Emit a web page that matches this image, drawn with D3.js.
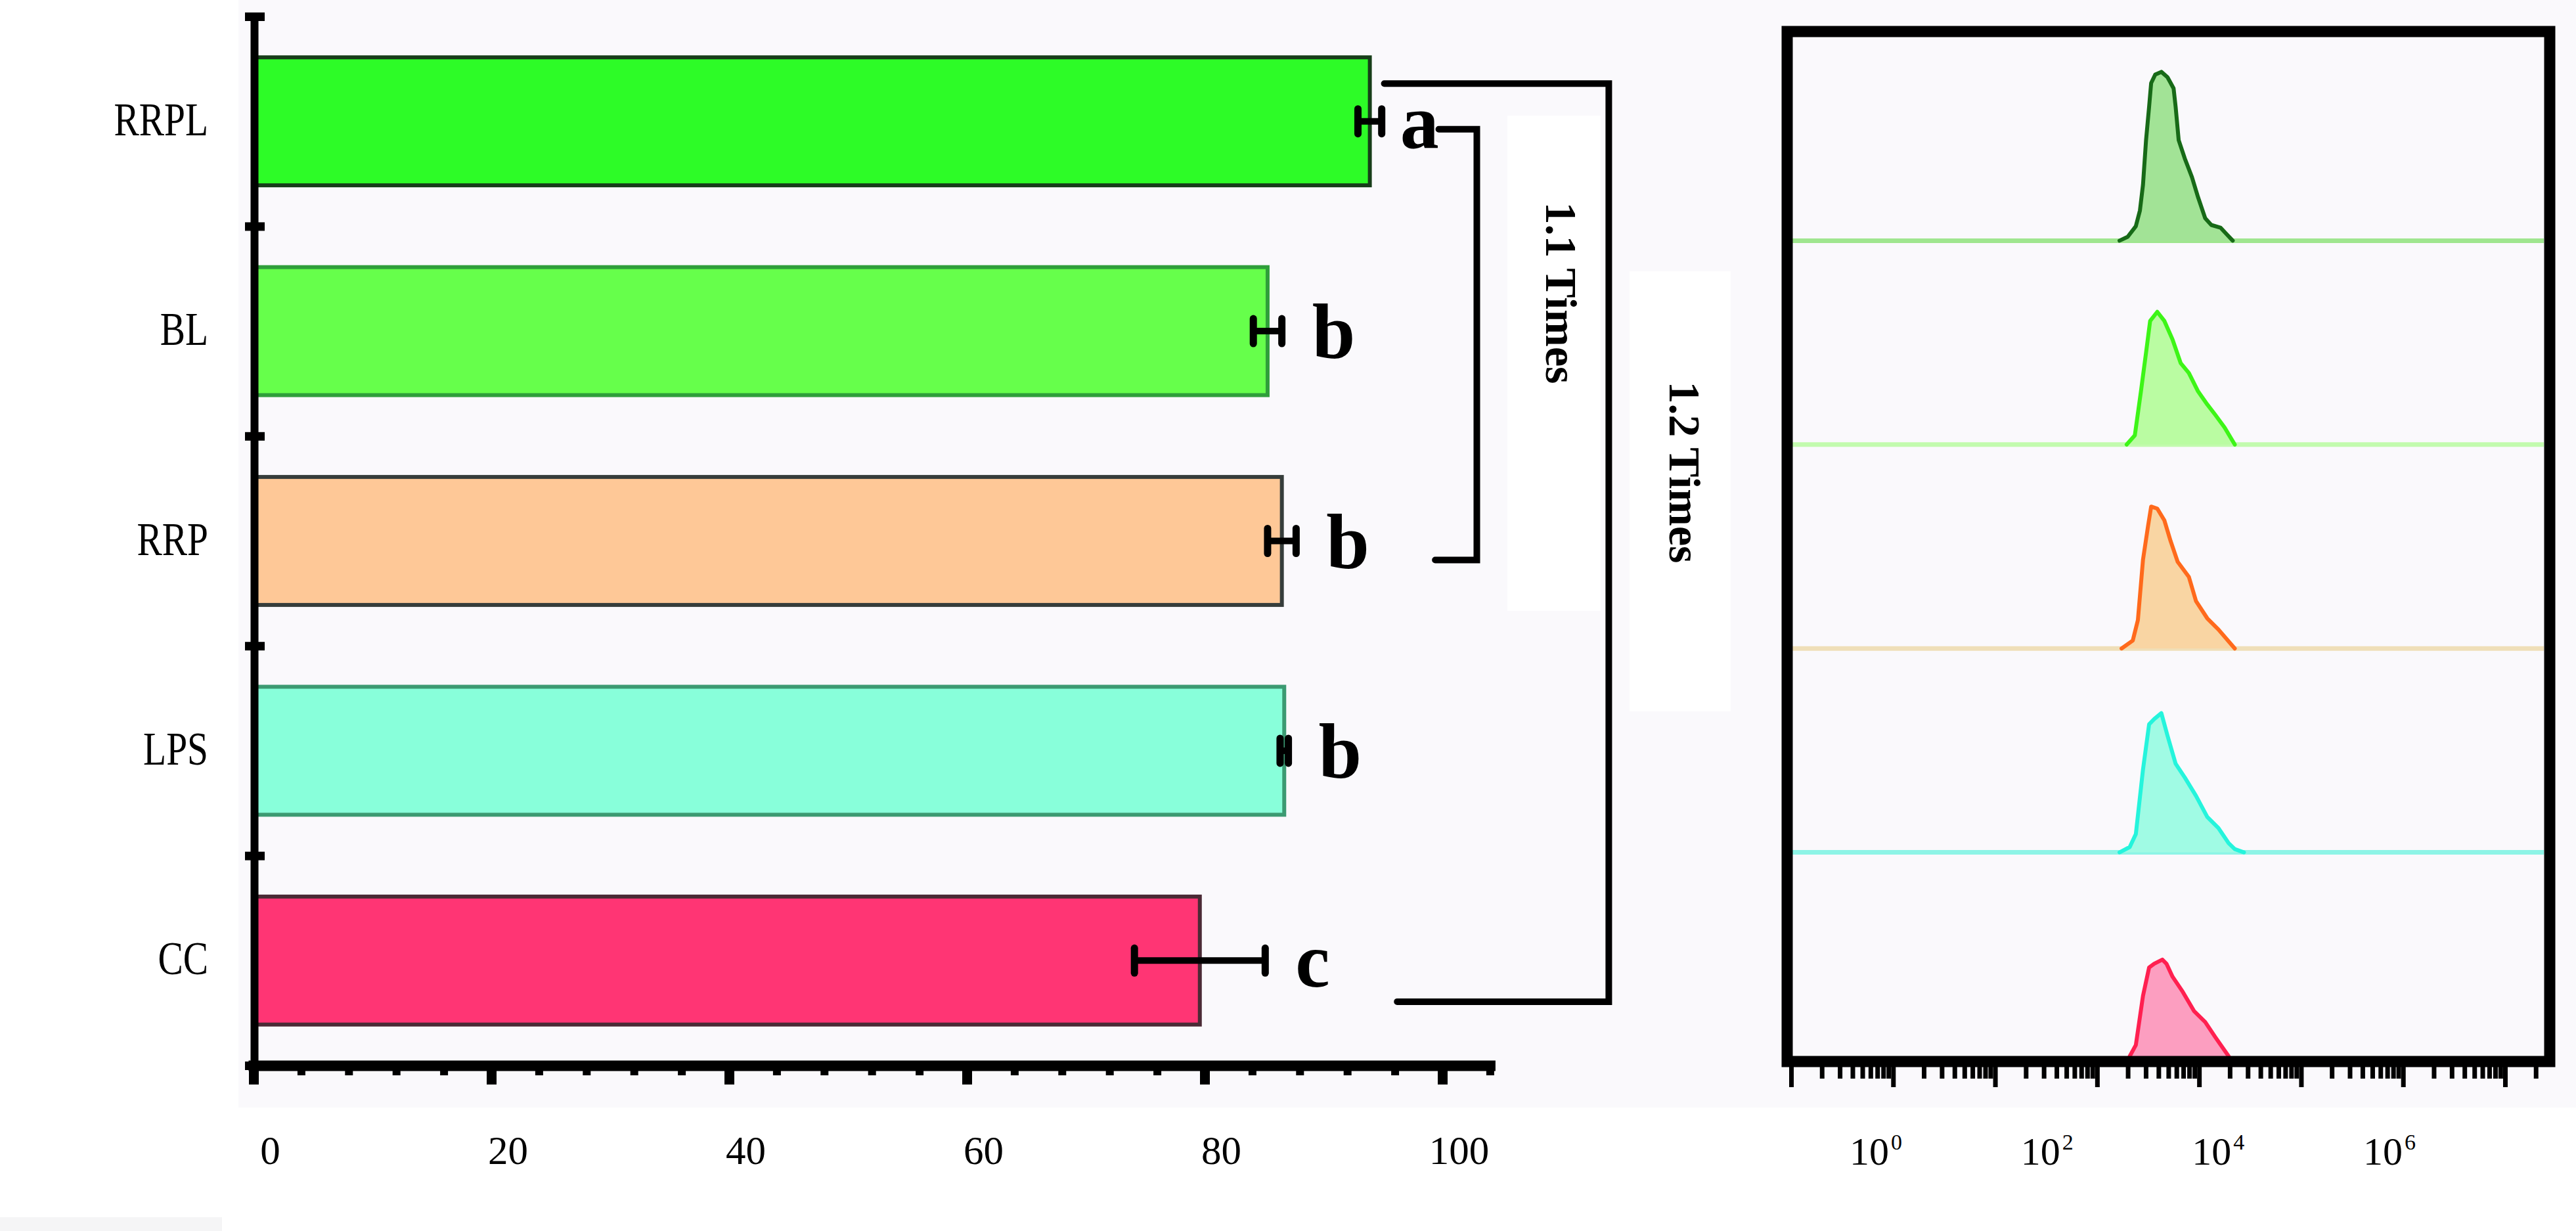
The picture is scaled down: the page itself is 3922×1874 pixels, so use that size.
<!DOCTYPE html>
<html><head><meta charset="utf-8">
<script src="https://cdn.jsdelivr.net/npm/d3@7"></script>
<style>html,body{margin:0;padding:0;background:#fff;} svg{display:block;}</style>
</head><body>
<svg id="chart" width="3922" height="1874"></svg>
<script>
// ---------------- DATA ----------------
const categories = ["RRPL", "BL", "RRP", "LPS", "CC"];
const meanValues = [93.9, 85.3, 86.5, 86.7, 79.6];
const errorValues = [1.0, 1.2, 1.2, 0.35, 5.5];
const sigLetters = ["a", "b", "b", "b", "c"];
const xTickValues = [0, 20, 40, 60, 80, 100];
const foldLabels = ["1.1 Times", "1.2 Times"];
const histTickLabelExponents = [0, 2, 4, 6];

// flow cytometry histograms: log10 fluorescence intensity, relative count
const rrplLogFI = [3.22, 3.30, 3.38, 3.42, 3.45, 3.48, 3.51, 3.53, 3.57, 3.63, 3.69, 3.75, 3.77, 3.80, 3.86, 3.93, 3.99, 4.06, 4.12, 4.21, 4.27, 4.33];
const rrplCount = [0, 1.9, 7.1, 14.8, 27.4, 49.3, 65.7, 77.3, 81.5, 82.8, 80.2, 74.7, 65.7, 49.3, 40.3, 31.2, 21.3, 11.0, 7.7, 6.4, 3.2, 0];
const blLogFI = [3.29, 3.37, 3.43, 3.48, 3.52, 3.59, 3.66, 3.74, 3.82, 3.90, 3.99, 4.08, 4.16, 4.25, 4.35];
const blCount = [0, 4.5, 26.1, 45.1, 60.6, 65.1, 60.6, 51.5, 39.9, 35.1, 26.1, 19.7, 14.5, 8.4, 0];
const rrpLogFI = [3.24, 3.35, 3.40, 3.45, 3.50, 3.53, 3.59, 3.66, 3.72, 3.79, 3.90, 3.97, 4.08, 4.19, 4.35];
const rrpCount = [0, 3.9, 13.9, 43.5, 60.2, 69.6, 68.6, 62.8, 52.8, 42.5, 35.1, 23.2, 14.8, 9.3, 0];
const lpsLogFI = [3.22, 3.32, 3.38, 3.45, 3.51, 3.56, 3.63, 3.69, 3.77, 3.86, 3.97, 4.08, 4.19, 4.29, 4.35, 4.44];
const lpsCount = [0, 2.6, 9.0, 40.6, 62.8, 65.4, 68.3, 57.3, 43.5, 36.7, 27.7, 17.4, 11.9, 4.5, 1.6, 0];
const ccLogFI = [3.32, 3.38, 3.45, 3.51, 3.56, 3.64, 3.68, 3.74, 3.84, 3.95, 4.06, 4.16, 4.29];
const ccCount = [0, 5.5, 29.6, 43.5, 45.4, 47.4, 45.4, 39.0, 31.6, 22.2, 16.8, 9.3, 0];

// ---------------- STYLES ----------------
const barFills = ["#2dfc27", "#66ff4b", "#fec897", "#88ffda", "#ff3574"];
const barStrokes = ["#173d19", "#2f9e3a", "#363d3b", "#3c9a72", "#4a2a35"];
const histFills = ["#a2e396", "#bafca2", "#f9d5a3", "#a0fbe4", "#fc9ec0"];
const histStrokes = ["#176a17", "#3df517", "#ff6a1c", "#25f4dc", "#ff2050"];
const histBaseColors = ["#9fe68f", "#c2fbae", "#efdfb8", "#8df4e6", "#000"];
const serif = "'Liberation Serif', 'Times New Roman', serif";

const svg = d3.select("#chart");
svg.append("rect").attr("width", 3922).attr("height", 1874).attr("fill", "#ffffff");
svg.append("rect").attr("x", 363).attr("y", 0).attr("width", 3922 - 363).attr("height", 1686).attr("fill", "#faf9fc");
svg.append("rect").attr("x", 0).attr("y", 1853).attr("width", 338).attr("height", 21).attr("fill", "#f5f5f6");

// ---------------- LEFT: BAR CHART ----------------
const x = d3.scaleLinear().domain([0, 104]).range([386, 386 + 104 * 18.1]);
const y = d3.scaleBand().domain(categories).range([25, 1622]).paddingInner(0.39).paddingOuter(0.195);
const cy = d => y(d) + y.bandwidth() / 2;

// bars
svg.append("g").selectAll("rect").data(categories).join("rect")
  .attr("x", x(0))
  .attr("y", d => y(d))
  .attr("width", (d, i) => x(meanValues[i]) - x(0))
  .attr("height", y.bandwidth())
  .attr("fill", (d, i) => barFills[i])
  .attr("stroke", (d, i) => barStrokes[i])
  .attr("stroke-width", 6);

// error bars
const eb = svg.append("g").attr("stroke", "#000");
categories.forEach((c, i) => {
  const lo = x(meanValues[i] - errorValues[i]), hi = x(meanValues[i] + errorValues[i]);
  eb.append("line").attr("x1", lo).attr("x2", hi).attr("y1", cy(c)).attr("y2", cy(c)).attr("stroke-width", 10);
  [lo, hi].forEach(px => eb.append("line").attr("x1", px).attr("x2", px)
    .attr("y1", cy(c) - 19).attr("y2", cy(c) + 19).attr("stroke-width", 11).attr("stroke-linecap", "round"));
});

// significance letters
svg.append("g").selectAll("text").data(categories).join("text")
  .attr("x", (d, i) => x(meanValues[i] + errorValues[i]) + (i === 0 ? 28 : 46))
  .attr("y", d => cy(d) + 40)
  .attr("font-family", serif).attr("font-weight", "bold").attr("font-size", 118)
  .attr("fill", "#000")
  .text((d, i) => sigLetters[i]);

// y axis: category labels
const yLab = svg.append("g").attr("transform", `translate(${x(0)},0)`)
  .call(d3.axisLeft(y).tickSize(0));
yLab.select(".domain").remove();
yLab.selectAll("text")
  .attr("x", 0).attr("dy", null)
  .attr("transform", "translate(-69,21) scale(0.82,1.03)")
  .attr("font-family", serif).attr("font-size", 70).attr("fill", "#000");

// y axis: line with boundary ticks
const yEdge = d3.scaleLinear().domain([0, categories.length]).range([25, 1622]);
const yAx = svg.append("g").attr("transform", `translate(${x(0) + 1},0)`)
  .call(d3.axisLeft(yEdge).tickValues(d3.range(categories.length + 1)).tickFormat("").tickSizeOuter(0));
yAx.select(".domain").attr("stroke-width", 12).attr("stroke", "#000");
yAx.selectAll(".tick line").attr("x1", -14).attr("x2", 16).attr("stroke-width", 13).attr("stroke", "#000");

// x axis: minor ticks
const xMinor = svg.append("g").attr("transform", "translate(0,1622)")
  .call(d3.axisBottom(x).tickValues(d3.range(0, 105, 4).filter(v => v % 20 !== 0)).tickFormat("").tickSizeOuter(0));
xMinor.select(".domain").attr("stroke-width", 16).attr("stroke-linecap", "square").attr("stroke", "#000");
xMinor.selectAll(".tick line").attr("y1", 0).attr("y2", 15).attr("stroke-width", 12).attr("stroke", "#000");
// x axis: major ticks + labels
const xMajor = svg.append("g").attr("transform", "translate(0,1622)")
  .call(d3.axisBottom(x).tickValues(xTickValues).tickSizeOuter(0));
xMajor.select(".domain").remove();
xMajor.selectAll(".tick line").attr("y1", 0).attr("y2", 29).attr("stroke-width", 15).attr("stroke", "#000");
xMajor.selectAll(".tick text").attr("x", 25).attr("y", 150).attr("dy", null)
  .attr("font-family", serif).attr("font-size", 61).attr("fill", "#000");

// fold-change annotations (white boxes, brackets, rotated labels)
svg.append("rect").attr("x", 2295).attr("y", 176).attr("width", 142).attr("height", 754).attr("fill", "#ffffff");
svg.append("rect").attr("x", 2481).attr("y", 413).attr("width", 154).attr("height", 670).attr("fill", "#ffffff");
const br = svg.append("g").attr("fill", "none").attr("stroke", "#000").attr("stroke-width", 10).attr("stroke-linecap", "round");
const bigTop = y("RRPL") + 40, bigBot = y("CC") + 160, bigX = x(114);
br.append("path").attr("d", `M${x(meanValues[0]) + 22},${bigTop}H${bigX}V${bigBot}H${x(96.2)}`);
const smTop = cy("RRPL") + 12, smBot = cy("RRP") + 29, smX = x(102.9);
br.append("path").attr("d", `M${x(99.7)},${smTop}H${smX}V${smBot}H${x(99.4)}`);
[[2354, 446], [2542, 719]].forEach((p, i) => {
  svg.append("text").attr("transform", `translate(${p[0]},${p[1]}) rotate(90)`)
    .attr("text-anchor", "middle").attr("font-family", serif).attr("font-weight", "bold")
    .attr("font-size", 68).attr("fill", "#000").text(foldLabels[i]);
});

// ---------------- RIGHT: FLOW CYTOMETRY HISTOGRAMS ----------------
const hx = d3.scaleLog().domain([1, Math.pow(10, 7.38)]).range([2727, 3873]);
const hy = d3.scaleBand().domain(categories).range([56, 1608]).padding(0);
const hc = d3.scaleLinear().domain([0, 100]).range([0, hy.bandwidth()]);
const histLog = [rrplLogFI, blLogFI, rrpLogFI, lpsLogFI, ccLogFI];
const histCnt = [rrplCount, blCount, rrpCount, lpsCount, ccCount];

const hg = svg.append("g");
categories.forEach((c, i) => {
  const base = hy(c) + hy.bandwidth();
  if (i < categories.length - 1) {
    hg.append("line").attr("x1", hx.range()[0]).attr("x2", hx.range()[1]).attr("y1", base).attr("y2", base)
      .attr("stroke", histBaseColors[i]).attr("stroke-width", 7);
  }
  const pts = histLog[i].map((e, k) => ({ e, c: histCnt[i][k] }));
  const area = d3.area().x(d => hx(Math.pow(10, d.e))).y0(base).y1(d => base - hc(d.c)).curve(d3.curveLinear);
  const line = d3.line().x(d => hx(Math.pow(10, d.e))).y(d => base - hc(d.c)).curve(d3.curveLinear);
  hg.append("path").attr("d", area(pts)).attr("fill", histFills[i]);
  hg.append("path").attr("d", line(pts)).attr("fill", "none").attr("stroke", histStrokes[i])
    .attr("stroke-width", 6).attr("stroke-linejoin", "round").attr("stroke-linecap", "round");
});

// frame
svg.append("rect").attr("x", 2721).attr("y", 48).attr("width", 1161).attr("height", 1568)
  .attr("fill", "none").attr("stroke", "#000").attr("stroke-width", 17);

// log axis ticks
const hTicks = hx.ticks();
const hAx = svg.append("g").attr("transform", "translate(0,1616)")
  .call(d3.axisBottom(hx).tickValues(hTicks).tickFormat("").tickSizeOuter(0));
hAx.select(".domain").remove();
hAx.selectAll(".tick line")
  .attr("y1", 0)
  .attr("y2", d => Math.abs(Math.log10(d) - Math.round(Math.log10(d))) < 1e-9 ? 39 : 26)
  .attr("stroke-width", 7).attr("stroke", "#000");

// log axis labels
const labelScale = d3.scaleLinear().domain([0, 6]).range([2856, 3638]);
const hl = svg.append("g");
histTickLabelExponents.forEach(e => {
  const t = hl.append("text").attr("x", labelScale(e)).attr("y", 1773).attr("text-anchor", "middle")
    .attr("font-family", serif).attr("font-size", 60).attr("fill", "#000");
  t.append("tspan").text("10");
  t.append("tspan").attr("dx", 3).attr("dy", -23).attr("font-size", 34).text(String(e));
});
</script>
</body></html>
